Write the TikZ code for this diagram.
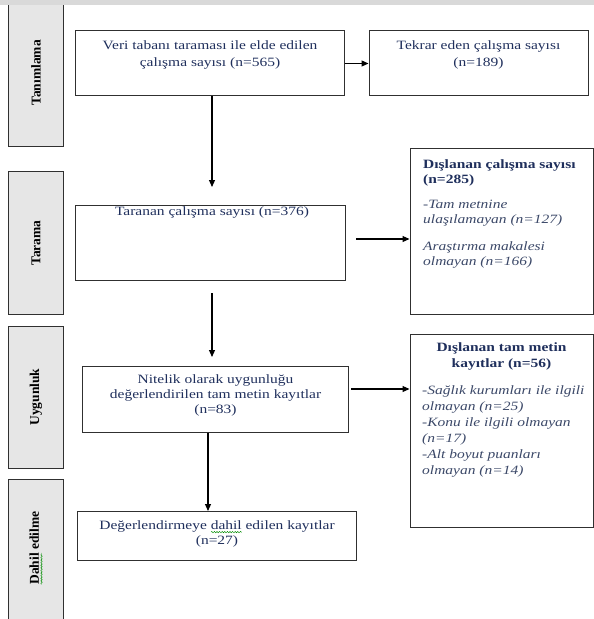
\documentclass[tikz,border=0pt]{standalone}
\usepackage{fontspec}
\setmainfont{Liberation Serif}[FakeStretch=1.22]
\newfontfamily\tabfont{Liberation Serif}
\usetikzlibrary{arrows.meta,decorations.pathmorphing}
\definecolor{boxtext}{HTML}{1F2F5C}
\definecolor{listtext}{HTML}{3B4868}
\definecolor{tabgray}{HTML}{E6E6E6}
\definecolor{bargray}{HTML}{D9D9D9}
\definecolor{edge}{HTML}{303030}
\newsavebox\spellbox
\newcommand\spellmark[1]{\sbox\spellbox{#1}\edef\spellw{\the\wd\spellbox}\rlap{\tikz[baseline=0pt,x=1bp,y=1bp]\draw[green!55!black,line width=0.45bp,decorate,decoration={snake,amplitude=0.7bp,segment length=2.6bp}] (0,-2.6) -- (\spellw,-2.6);}\usebox\spellbox}

\begin{document}
\begin{tikzpicture}[x=1bp,y=-1bp,>={Triangle[length=7bp,width=6bp]}]
        \tikzset{
            box/.style={draw=edge, line width=1bp, inner sep=0pt},
            tab/.style={draw=edge, line width=1bp, fill=tabgray, rotate=90, inner sep=0pt, minimum height=54bp, font=\tabfont\fontsize{13.5bp}{15bp}\selectfont\bfseries},
            tablabel/.style={rotate=90, inner sep=0pt, font=\tabfont\fontsize{13.5bp}{15bp}\selectfont\bfseries},
            txt/.style={inner sep=0pt, align=center, text=boxtext, font=\fontsize{12.7bp}{15bp}\selectfont},
            list/.style={txt, align=left, anchor=north west, text=listtext},
            flow/.style={->, line width=1.1bp, color=black}
        }
        \useasboundingbox (0,0) rectangle (594,619);
        \clip (0,0) rectangle (594,619);
        \node[tab, minimum width=146bp] (t1) at (36,73) {Tanımlama};
        \node[tab, minimum width=142bp] (t2) at (36,243) {Tarama};
        \node[tab, minimum width=142bp] (t3) at (36,397) {Uygunluk};
        \node[tab, minimum width=150bp] (t4) at (36,554) {};
        \node[tablabel] (t4l) at (36,548) {\spellmark{Dahil} edilme};
        \fill[bargray] (0,0) rectangle (594,5);
        \node[box, minimum width=268bp, minimum height=65bp] (b1) at (210,63.5) {};
        \node[box, minimum width=219bp, minimum height=65bp] (b2) at (478.5,63.5) {};
        \node[box, minimum width=269bp, minimum height=75bp] (b3) at (210.5,242.5) {};
        \node[box, minimum width=183bp, minimum height=165bp] (b4) at (501.5,231.5) {};
        \node[box, minimum width=265bp, minimum height=66bp] (b5) at (215.5,399) {};
        \node[box, minimum width=183bp, minimum height=193bp] (b6) at (501.5,430.5) {};
        \node[box, minimum width=278bp, minimum height=49bp] (b7) at (217,535.5) {};
        \node[txt, anchor=north, font=\fontsize{12.7bp}{16.7bp}\selectfont] (b1t) at (210,40.5) {Veri tabanı taraması ile elde edilen\\ çalışma sayısı (n=565)};
        \node[txt, anchor=north, font=\fontsize{12.7bp}{16.7bp}\selectfont] (b2t) at (478.5,40.5) {Tekrar eden çalışma sayısı\\ (n=189)};
        \node[txt, anchor=north] (b3t) at (212,206.5) {Taranan çalışma sayısı (n=376)};
        \node[list] (b4t) at (423,159.5) {\textcolor{boxtext}{\textbf{Dışlanan çalışma sayısı}}\\ \textcolor{boxtext}{\textbf{(n=285)}}\\[10bp] \textit{-Tam metnine}\\ \textit{ulaşılamayan (n=127)}\\[11.5bp] \textit{Araştırma makalesi}\\ \textit{olmayan (n=166)}};
        \node[txt, anchor=north] (b5t) at (215.5,374.5) {Nitelik olarak uygunluğu\\ değerlendirilen tam metin kayıtlar\\ (n=83)};
        \node[txt, anchor=north, font=\fontsize{12.7bp}{16bp}\selectfont\bfseries] (b6h) at (501.5,342.5) {Dışlanan tam metin\\ kayıtlar (n=56)};
        \node[list, font=\fontsize{12.7bp}{16bp}\selectfont\itshape] (b6t) at (422,385.5) {-Sağlık kurumları ile ilgili\\ olmayan (n=25)\\ -Konu ile ilgili olmayan\\ (n=17)\\ -Alt boyut puanları\\ olmayan (n=14)};
        \node[txt, anchor=north] (b7t) at (217,520.5) {Değerlendirmeye \spellmark{dahil} edilen kayıtlar\\ (n=27)};
        \coordinate (e13) at (212,187);
        \coordinate (s34) at (356,239);
        \coordinate (s35) at (212,293);
        \coordinate (e35) at (212,357);
        \coordinate (s56) at (351,389);
        \coordinate (e57) at (208,511);
        \draw[flow] (b1.east) -- (b2.west);
        \draw[flow] (b1.south -| e13) -- (e13);
        \draw[flow] (s34) -- (s34 -| b4.west);
        \draw[flow] (s35) -- (e35);
        \draw[flow] (s56) -- (s56 -| b6.west);
        \draw[flow] (b5.south -| e57) -- (e57);
    \end{tikzpicture}
\end{document}
